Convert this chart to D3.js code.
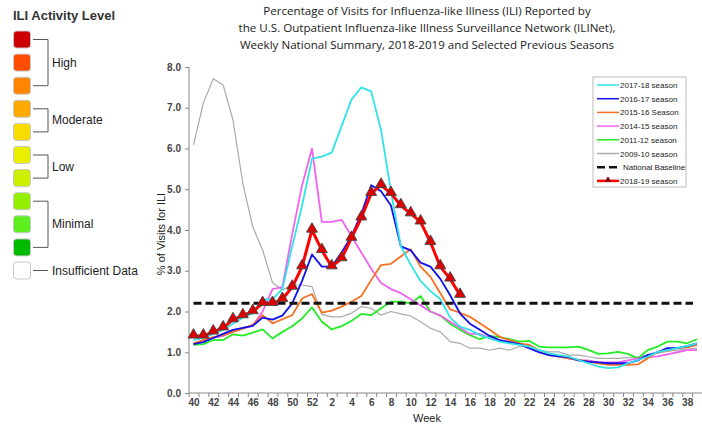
<!DOCTYPE html>
<html>
<head>
<meta charset="utf-8">
<style>
  body { margin: 0; background: #fff; }
  svg { font-family: Arial, "Liberation Sans", sans-serif; }
  .axis text { font-size: 10px; font-weight: bold; fill: #444; }
  .axis path, .axis line { stroke: #888; }
</style>
</head>
<body>
<svg width="702" height="427"></svg>
<script src="https://d3js.org/d3.v7.min.js"></script>
<script>

// weeks of the flu season (week 40 through week 39)
var weeks = [40,41,42,43,44,45,46,47,48,49,50,51,52,
  1,2,3,4,5,6,7,8,9,10,11,12,13,14,15,16,17,18,19,20,
  21,22,23,24,25,26,27,28,29,30,31,32,33,34,35,36,37,38,39];

var s1718 = [1.3,1.35,1.45,1.55,1.7,1.85,1.95,2.3,2.3,2.55,3.6,4.6,5.75,
  5.8,5.9,6.55,7.2,7.5,7.4,6.45,4.95,3.6,3.15,2.75,2.5,2.3,1.85,1.63,1.55,1.42,1.34,1.26,1.22,
  1.18,1.14,1.05,0.97,0.93,0.89,0.81,0.73,0.65,0.61,0.63,0.73,0.81,0.89,1.01,1.05,1.1,1.15,1.22];
var s1617 = [1.2,1.25,1.35,1.45,1.55,1.6,1.65,1.85,1.8,1.9,2.2,2.75,3.4,
  3.1,3.1,3.45,3.85,4.4,5.1,4.95,4.6,3.6,3.5,3.2,3.1,2.8,2.4,1.95,1.7,1.55,1.4,1.3,1.25,
  1.2,1.1,1.0,0.93,0.9,0.88,0.8,0.77,0.75,0.73,0.73,0.73,0.8,0.93,1.0,1.1,1.1,1.15,1.22];
var s1516 = [1.22,1.3,1.37,1.42,1.5,1.58,1.67,1.91,1.71,1.81,1.91,2.32,2.43,
  1.97,2.02,2.12,2.24,2.38,2.77,3.14,3.17,3.35,3.53,3.1,2.85,2.45,2.05,1.97,1.87,1.71,1.55,1.38,1.3,
  1.22,1.18,1.05,0.93,0.89,0.85,0.81,0.77,0.73,0.69,0.69,0.69,0.7,0.85,1.01,1.05,1.1,1.12,1.18];
var s1415 = [1.2,1.3,1.35,1.4,1.5,1.6,1.65,2.0,2.55,2.6,3.9,5.1,6.0,
  4.2,4.2,4.25,3.85,3.45,3.05,2.7,2.55,2.45,2.3,2.15,2.0,1.9,1.75,1.6,1.45,1.45,1.35,1.3,1.25,
  1.2,1.1,1.0,0.95,0.9,0.85,0.8,0.8,0.75,0.75,0.75,0.8,0.85,0.88,0.9,0.95,1.0,1.05,1.05];
var s1112 = [1.18,1.2,1.3,1.3,1.44,1.41,1.48,1.56,1.34,1.5,1.64,1.83,2.1,
  1.75,1.56,1.64,1.77,1.94,1.91,2.08,2.24,2.24,2.2,2.38,2.0,1.9,1.7,1.55,1.42,1.32,1.4,1.37,1.32,
  1.26,1.28,1.14,1.12,1.12,1.12,1.14,1.06,0.96,0.97,1.01,0.96,0.85,1.05,1.14,1.26,1.26,1.22,1.32];
var s0910 = [6.09,7.12,7.71,7.56,6.7,5.14,4.08,3.51,2.71,2.53,2.65,2.65,2.61,
  1.93,1.87,1.87,1.96,2.12,2.08,1.91,2.0,1.94,1.89,1.75,1.59,1.5,1.26,1.22,1.1,1.1,1.05,1.1,1.05,
  1.14,1.18,1.05,1.01,1.01,0.93,0.93,0.89,0.85,0.85,0.85,0.87,0.89,0.93,0.98,1.02,1.05,1.08,1.1];
// current season, week 40 to week 15
var s1819 = [1.4,1.4,1.5,1.6,1.8,1.9,2.0,2.2,2.2,2.3,2.6,3.1,4.0,
  3.5,3.1,3.3,3.8,4.3,4.9,5.1,4.9,4.6,4.4,4.2,3.7,3.1,2.8,2.4];
var baseline = 2.2;

var yTicks = [0,1,2,3,4,5,6,7,8];

var seasons = [
  { name: "2009-10 season", values: s0910, color: "#aaaaaa", width: 1.2 },
  { name: "2011-12 season", values: s1112, color: "#22ee22", width: 1.8 },
  { name: "2014-15 season", values: s1415, color: "#f062f0", width: 1.8 },
  { name: "2015-16 Season", values: s1516, color: "#f87020", width: 1.8 },
  { name: "2016-17 season", values: s1617, color: "#1010f0", width: 1.8 },
  { name: "2017-18 season", values: s1718, color: "#30e4e8", width: 1.8 }
];

var activityColors = ["#cc0000","#ff4d00","#ff8400","#ffaa00","#f8dc00",
  "#e8f000","#ccf000","#94f000","#5cee1e","#00bb00"];
var activityGroups = [
  { label: "High", from: 0, to: 2 },
  { label: "Moderate", from: 3, to: 4 },
  { label: "Low", from: 5, to: 6 },
  { label: "Minimal", from: 7, to: 9 }
];

var svg = d3.select("svg");

var x = d3.scaleLinear().domain([0, weeks.length - 1]).range([193.5, 697]);
var y = d3.scaleLinear().domain([0, 8]).range([393, 67]);

// title
var title = [
  "Percentage of Visits for Influenza-like Illness (ILI) Reported by",
  "the U.S. Outpatient Influenza-like Illness Surveillance Network (ILINet),",
  "Weekly National Summary, 2018-2019 and Selected Previous Seasons"
];
svg.append("g").selectAll("text")
  .data(title)
  .enter().append("text")
  .attr("x", 427)
  .attr("y", function (d, i) { return 15 + i * 17; })
  .attr("text-anchor", "middle")
  .style("font-family", "'Open Sans', sans-serif")
  .style("font-size", "11.6px")
  .attr("fill", "#222")
  .text(function (d) { return d; });

// axes
var yAxis = svg.append("g").attr("class", "axis")
  .attr("transform", "translate(189,0)")
  .call(d3.axisLeft(y).tickValues(yTicks).tickFormat(d3.format(".1f")).tickSize(4).tickPadding(4));
yAxis.select(".domain").attr("d", "M0," + y(8) + "V" + y(0));

var xAxis = svg.append("g").attr("class", "axis")
  .attr("transform", "translate(0," + y(0) + ")")
  .call(d3.axisBottom(x).tickValues(d3.range(weeks.length)).tickSize(4).tickPadding(2)
    .tickFormat(function (i) { return i % 2 === 0 ? weeks[i] : ""; }));
xAxis.select(".domain").attr("d", "M189,0H702");
xAxis.selectAll(".tick line").attr("transform", "translate(-4.9,0)");

svg.append("text")
  .attr("x", 427).attr("y", 422)
  .attr("text-anchor", "middle")
  .style("font-size", "11px").attr("fill", "#222")
  .text("Week");

svg.append("text")
  .attr("transform", "translate(165," + (y(4) + 4) + ") rotate(-90)")
  .attr("text-anchor", "middle")
  .style("font-size", "11px").attr("fill", "#222")
  .text("% of Visits for ILI");

// season lines
var line = d3.line()
  .x(function (d, i) { return x(i); })
  .y(function (d) { return y(d); });

svg.append("g").selectAll("path")
  .data(seasons)
  .enter().append("path")
  .attr("fill", "none")
  .attr("stroke", function (d) { return d.color; })
  .attr("stroke-width", function (d) { return d.width; })
  .attr("stroke-linejoin", "round")
  .attr("d", function (d) { return line(d.values); });

svg.append("line")
  .attr("x1", x(0)).attr("x2", x(weeks.length - 1) - 4)
  .attr("y1", y(baseline)).attr("y2", y(baseline))
  .attr("stroke", "#111").attr("stroke-width", 3)
  .attr("stroke-dasharray", "8,4");

svg.append("path")
  .attr("fill", "none")
  .attr("stroke", "#ff0000")
  .attr("stroke-width", 3)
  .attr("stroke-linejoin", "round")
  .attr("d", line(s1819));

var tri = d3.symbol().type(d3.symbolTriangle).size(52);
svg.append("g").selectAll("path")
  .data(s1819)
  .enter().append("path")
  .attr("transform", function (d, i) { return "translate(" + x(i) + "," + (y(d) - 1) + ")"; })
  .attr("d", tri)
  .attr("fill", "#dd0000")
  .attr("stroke", "#444")
  .attr("stroke-width", 0.9);

// right legend
var legendItems = [
  { name: "2017-18 season", color: "#30e4e8" },
  { name: "2016-17 season", color: "#1010f0" },
  { name: "2015-16 Season", color: "#f87020" },
  { name: "2014-15 season", color: "#f062f0" },
  { name: "2011-12 season", color: "#22ee22" },
  { name: "2009-10 season", color: "#aaaaaa" },
  { name: "National Baseline", color: "#111", dash: true },
  { name: "2018-19 season", color: "#ff0000", marker: true }
];
var lg = svg.append("g").attr("transform", "translate(593,77)");
lg.append("rect")
  .attr("width", 93).attr("height", 110)
  .attr("fill", "#fff").attr("stroke", "#bbb");
var li = lg.selectAll(".item")
  .data(legendItems)
  .enter().append("g")
  .attr("class", "item")
  .attr("transform", function (d, i) { return "translate(0," + (8 + i * 13.7) + ")"; });
li.append("line")
  .attr("x1", 4).attr("x2", 26)
  .attr("stroke", function (d) { return d.color; })
  .attr("stroke-width", function (d) { return d.dash || d.marker ? 2.5 : 1.5; })
  .attr("stroke-dasharray", function (d) { return d.dash ? "8,4" : null; });
li.filter(function (d) { return d.marker; }).append("path")
  .attr("transform", "translate(15,-1)")
  .attr("d", d3.symbol().type(d3.symbolTriangle).size(18))
  .attr("fill", "#800000");
li.append("text")
  .attr("x", function (d) { return d.dash ? 30 : 27; })
  .attr("y", 3)
  .style("font-size", "8px").attr("fill", "#222")
  .text(function (d) { return d.name; });

// left ILI activity legend
var al = svg.append("g");
al.append("text")
  .attr("x", 13).attr("y", 20)
  .style("font-size", "13px").style("font-weight", "bold")
  .attr("fill", "#333")
  .text("ILI Activity Level");

var rowY = function (i) { return 39.5 + i * 23.1; };
al.selectAll("rect")
  .data(activityColors.concat(["#ffffff"]))
  .enter().append("rect")
  .attr("x", 13.5).attr("y", function (d, i) { return rowY(i) - 8.5; })
  .attr("width", 17).attr("height", 17)
  .attr("rx", 3)
  .attr("fill", function (d) { return d; })
  .attr("stroke", "#c8c8c8").attr("stroke-width", 1);

var br = al.selectAll(".bracket")
  .data(activityGroups)
  .enter().append("g");
br.append("path")
  .attr("fill", "none").attr("stroke", "#555").attr("stroke-width", 1)
  .attr("d", function (d) {
    return "M33," + rowY(d.from) + "H48V" + rowY(d.to) + "H33";
  });
br.append("text")
  .attr("x", 52)
  .attr("y", function (d) { return (rowY(d.from) + rowY(d.to)) / 2 + 4; })
  .style("font-size", "12px").attr("fill", "#222")
  .text(function (d) { return d.label; });

al.append("line")
  .attr("x1", 33).attr("x2", 48)
  .attr("y1", rowY(10)).attr("y2", rowY(10))
  .attr("stroke", "#555");
al.append("text")
  .attr("x", 52).attr("y", rowY(10) + 4)
  .style("font-size", "12px").attr("fill", "#222")
  .text("Insufficient Data");

</script>
</body>
</html>
